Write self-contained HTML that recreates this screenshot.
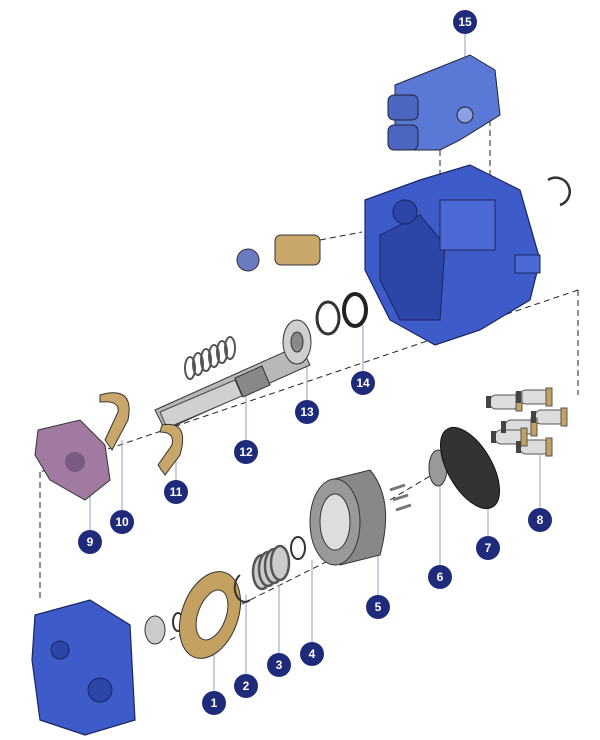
<!DOCTYPE html>
<html><head><meta charset="utf-8"><style>
html,body{margin:0;padding:0;background:#fff;}
svg{display:block;font-family:"Liberation Sans",sans-serif;}
</style></head><body>
<svg width="600" height="740" viewBox="0 0 600 740" xmlns="http://www.w3.org/2000/svg">
<g stroke="#222" stroke-width="1" fill="none" stroke-dasharray="6,4">
  <line x1="578" y1="290" x2="578" y2="395"/>
  <line x1="578" y1="290" x2="40" y2="472"/>
  <line x1="40" y1="472" x2="40" y2="600"/>
  <line x1="440" y1="130" x2="440" y2="215"/>
  <line x1="490" y1="120" x2="490" y2="205"/>
  <line x1="320" y1="240" x2="362" y2="232"/>
  <line x1="170" y1="640" x2="330" y2="560"/>
  <line x1="390" y1="500" x2="440" y2="470"/>
</g>
<g stroke="#9fb0c8" stroke-width="1.2">
  <line x1="465" y1="22" x2="465" y2="60"/>
  <line x1="363" y1="383" x2="363" y2="325"/>
  <line x1="307" y1="412" x2="307" y2="360"/>
  <line x1="246" y1="452" x2="246" y2="385"/>
  <line x1="176" y1="492" x2="176" y2="450"/>
  <line x1="122" y1="522" x2="122" y2="440"/>
  <line x1="90" y1="542" x2="90" y2="490"/>
  <line x1="540" y1="520" x2="540" y2="455"/>
  <line x1="488" y1="548" x2="488" y2="490"/>
  <line x1="440" y1="577" x2="440" y2="480"/>
  <line x1="378" y1="607" x2="378" y2="540"/>
  <line x1="312" y1="654" x2="312" y2="560"/>
  <line x1="279" y1="665" x2="279" y2="585"/>
  <line x1="246" y1="686" x2="246" y2="595"/>
  <line x1="214" y1="703" x2="214" y2="630"/>
</g>
<!-- valve 15 -->
<path d="M395 85 L470 55 L495 70 L500 115 L460 140 L440 150 L395 150 Z" fill="#5a79d6" stroke="#223" stroke-width="1"/>
<rect x="388" y="95" width="30" height="25" rx="6" fill="#4a66c0" stroke="#223"/>
<rect x="388" y="125" width="30" height="25" rx="6" fill="#4a66c0" stroke="#223"/>
<circle cx="465" cy="115" r="8" fill="#8aa0e0" stroke="#223"/>
<!-- main housing -->
<path d="M365 200 L420 180 L470 165 L520 190 L540 260 L530 300 L480 330 L435 345 L390 320 L365 270 Z" fill="#3d5cc9" stroke="#1a2560" stroke-width="1.2"/>
<path d="M380 235 L420 215 L445 245 L440 320 L400 320 L380 280 Z" fill="#2c46a8" stroke="#1a2560"/>
<rect x="440" y="200" width="55" height="50" fill="#4c6ad6" stroke="#1a2560"/>
<circle cx="405" cy="212" r="12" fill="#2c46a8" stroke="#1a2560"/>
<rect x="515" y="255" width="25" height="18" fill="#4c6ad6" stroke="#1a2560"/>
<path d="M548 180 A14 14 0 1 1 560 205" stroke="#333" stroke-width="2.5" fill="none"/>
<!-- bushing -->
<rect x="275" y="235" width="45" height="30" rx="6" fill="#c9a76a" stroke="#333"/>
<circle cx="248" cy="260" r="11" fill="#6a7cbf" stroke="#333"/>
<!-- spring -->
<g stroke="#555" stroke-width="2" fill="none">
  <ellipse cx="190" cy="368" rx="5" ry="11"/><ellipse cx="198" cy="364" rx="5" ry="11"/>
  <ellipse cx="206" cy="360" rx="5" ry="11"/><ellipse cx="214" cy="356" rx="5" ry="11"/>
  <ellipse cx="222" cy="352" rx="5" ry="11"/><ellipse cx="230" cy="348" rx="5" ry="11"/>
</g>
<!-- shaft -->
<path d="M155 410 L300 345 L310 365 L165 430 Z" fill="#b8b8b8" stroke="#333"/>
<path d="M160 412 L235 380 L242 396 L167 428 Z" fill="#d0d0d0" stroke="#444"/>
<path d="M235 378 L262 366 L270 385 L243 397 Z" fill="#888" stroke="#333"/>
<ellipse cx="297" cy="342" rx="14" ry="22" fill="#cfcfcf" stroke="#333"/>
<ellipse cx="297" cy="342" rx="6" ry="10" fill="#888" stroke="#333"/>
<ellipse cx="328" cy="318" rx="11" ry="16" fill="none" stroke="#333" stroke-width="3"/>
<ellipse cx="355" cy="310" rx="11" ry="16" fill="none" stroke="#222" stroke-width="4"/>
<!-- 10, 11 gold clips -->
<path d="M100 395 Q135 385 128 420 L112 450 L105 440 L118 412 Q120 400 100 402 Z" fill="#c9a76a" stroke="#333"/>
<path d="M162 425 Q190 420 180 455 L165 475 L158 465 L172 445 Q175 432 160 432 Z" fill="#c9a76a" stroke="#333"/>
<!-- 9 pink cover -->
<path d="M38 430 L80 420 L105 445 L110 480 L85 500 L50 480 L35 455 Z" fill="#a07aa0" stroke="#333"/>
<circle cx="75" cy="462" r="10" fill="#7a5a80"/>
<!-- bottom housing -->
<path d="M35 615 L90 600 L130 625 L135 720 L85 735 L40 720 L32 660 Z" fill="#3d5cc9" stroke="#1a2560" stroke-width="1.2"/>
<circle cx="100" cy="690" r="12" fill="#2c46a8" stroke="#1a2560"/>
<circle cx="60" cy="650" r="9" fill="#2c46a8" stroke="#1a2560"/>
<!-- small bearing -->
<ellipse cx="155" cy="630" rx="10" ry="14" fill="#ccc" stroke="#333"/>
<ellipse cx="178" cy="622" rx="5" ry="9" fill="none" stroke="#333" stroke-width="2"/>
<!-- 1 gold plate -->
<ellipse cx="210" cy="615" rx="28" ry="45" fill="#c4a160" stroke="#333" transform="rotate(20 210 615)"/>
<ellipse cx="212" cy="615" rx="14" ry="26" fill="#fff" stroke="#333" transform="rotate(20 212 615)"/>
<!-- 2 ring -->
<path d="M240 575 A10 14 0 1 0 250 600" stroke="#333" stroke-width="2" fill="none"/>
<!-- 3 spring -->
<g stroke="#555" stroke-width="2.5" fill="#ccc">
  <ellipse cx="262" cy="572" rx="9" ry="17"/><ellipse cx="268" cy="569" rx="9" ry="17"/>
  <ellipse cx="274" cy="566" rx="9" ry="17"/><ellipse cx="280" cy="563" rx="9" ry="17"/>
</g>
<ellipse cx="298" cy="548" rx="7" ry="11" fill="none" stroke="#333" stroke-width="2"/>
<!-- 5 cylinder -->
<path d="M330 480 L370 470 Q395 500 380 555 L340 565 Z" fill="#888" stroke="#333"/>
<ellipse cx="335" cy="522" rx="25" ry="43" fill="#999" stroke="#333"/>
<ellipse cx="335" cy="522" rx="15" ry="28" fill="#ddd" stroke="#333"/>
<g stroke="#777" stroke-width="3"><line x1="390" y1="490" x2="405" y2="485"/><line x1="393" y1="500" x2="408" y2="495"/><line x1="396" y1="510" x2="411" y2="505"/></g>
<!-- 6 -->
<ellipse cx="438" cy="468" rx="9" ry="18" fill="#999" stroke="#333"/>
<!-- 7 -->
<ellipse cx="470" cy="468" rx="22" ry="45" fill="#333" stroke="#111" transform="rotate(-30 470 468)"/>
<!-- 8 pistons -->
<g fill="#ddd" stroke="#555">
  <rect x="490" y="395" width="30" height="14" rx="6"/><rect x="505" y="420" width="30" height="14" rx="6"/>
  <rect x="520" y="390" width="30" height="14" rx="6"/><rect x="520" y="440" width="30" height="14" rx="6"/>
  <rect x="535" y="410" width="30" height="14" rx="6"/><rect x="495" y="430" width="30" height="14" rx="6"/>
</g>
<g fill="#c4a160" stroke="#555">
  <rect x="516" y="393" width="6" height="18"/><rect x="531" y="418" width="6" height="18"/>
  <rect x="546" y="388" width="6" height="18"/><rect x="546" y="438" width="6" height="18"/>
  <rect x="561" y="408" width="6" height="18"/><rect x="521" y="428" width="6" height="18"/>
</g>
<g fill="#444">
  <rect x="486" y="396" width="5" height="12"/><rect x="501" y="421" width="5" height="12"/>
  <rect x="516" y="391" width="5" height="12"/><rect x="516" y="441" width="5" height="12"/>
  <rect x="531" y="411" width="5" height="12"/><rect x="491" y="431" width="5" height="12"/>
</g>
<!-- labels -->
<g fill="#1f2a7a">
  <circle cx="465" cy="22" r="12"/><circle cx="363" cy="383" r="12"/><circle cx="307" cy="412" r="12"/>
  <circle cx="246" cy="452" r="12"/><circle cx="176" cy="492" r="12"/><circle cx="122" cy="522" r="12"/>
  <circle cx="90" cy="542" r="12"/><circle cx="540" cy="520" r="12"/><circle cx="488" cy="548" r="12"/>
  <circle cx="440" cy="577" r="12"/><circle cx="378" cy="607" r="12"/><circle cx="312" cy="654" r="12"/>
  <circle cx="279" cy="665" r="12"/><circle cx="246" cy="686" r="12"/><circle cx="214" cy="703" r="12"/>
</g>
<g fill="#fff" font-size="12" font-weight="bold" text-anchor="middle">
  <text x="465" y="26">15</text><text x="363" y="387">14</text><text x="307" y="416">13</text>
  <text x="246" y="456">12</text><text x="176" y="496">11</text><text x="122" y="526">10</text>
  <text x="90" y="546">9</text><text x="540" y="524">8</text><text x="488" y="552">7</text>
  <text x="440" y="581">6</text><text x="378" y="611">5</text><text x="312" y="658">4</text>
  <text x="279" y="669">3</text><text x="246" y="690">2</text><text x="214" y="707">1</text>
</g>
</svg>
</body></html>
